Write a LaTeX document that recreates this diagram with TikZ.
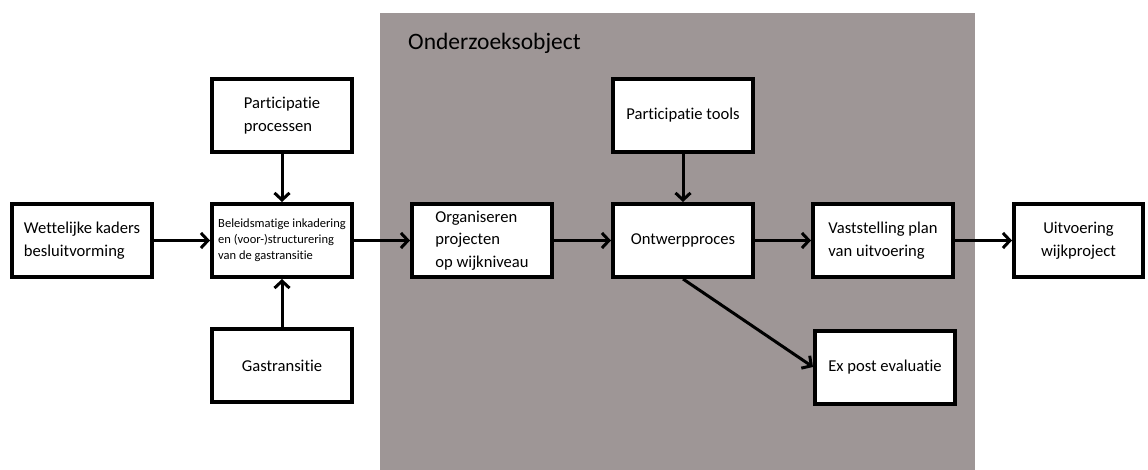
\documentclass[tikz,border=0pt]{standalone}
\usepackage{fontspec}
\setmainfont[Ligatures=NoCommon]{Carlito}
\usetikzlibrary{arrows.meta}
\definecolor{zone}{RGB}{158,150,150}
\tikzset{
  box/.style={draw=black, line width=4pt, fill=white, minimum width=140pt, minimum height=73pt, inner sep=0pt, font=\fontsize{16.6}{22.5}\selectfont},
  smallbox/.style={box, font=\fontsize{12.5}{16}\selectfont},
  conn/.style={line width=3pt, -{Straight Barb[length=7pt,width=15pt,line width=3pt]}},
}
\begin{document}
\begin{tikzpicture}[x=1pt,y=-1pt]
\useasboundingbox (0,0) rectangle (1148,470);
\fill[white] (0,0) rectangle (1148,470);
\fill[zone] (380,13) rectangle (975,470);
\node[anchor=base west, inner sep=0pt, font=\fontsize{23.5}{28}\selectfont] (title) at (408,50) {Onderzoeksobject};

\node[box, align=left] (wet) at (82,240.5) {Wettelijke kaders\\besluitvorming};
\node[smallbox, align=left] (bel) at (282,240.5) {Beleidsmatige inkadering\\en (voor-)structurering\\van de gastransitie};
\node[box, align=left] (pp) at (282,115.5) {Participatie\\processen};
\node[box] (gas) at (282,365.5) {Gastransitie};
\node[box, align=left] (org) at (482,240.5) {Organiseren\\projecten\\op wijkniveau};
\node[box] (pt) at (683,115.5) {Participatie tools};
\node[box] (ont) at (683,240.5) {Ontwerpproces};
\node[box, align=left] (vas) at (883,240.5) {Vaststelling plan\\van uitvoering};
\node[box, align=center, minimum width=129pt] (uit) at (1078.5,240.5) {Uitvoering\\wijkproject};
\node[box] (ex) at (885,367) {Ex post evaluatie};

\draw[conn] (wet) -- (bel);
\draw[conn] (pp) -- (bel);
\draw[conn] (gas) -- (bel);
\draw[conn] (bel) -- (org);
\draw[conn] (org) -- (ont);
\draw[conn] (pt) -- (ont);
\draw[conn] (ont) -- (vas);
\draw[conn] (vas) -- (uit);
\draw[conn] (ont.south) -- (ex.west);
\end{tikzpicture}
\end{document}
